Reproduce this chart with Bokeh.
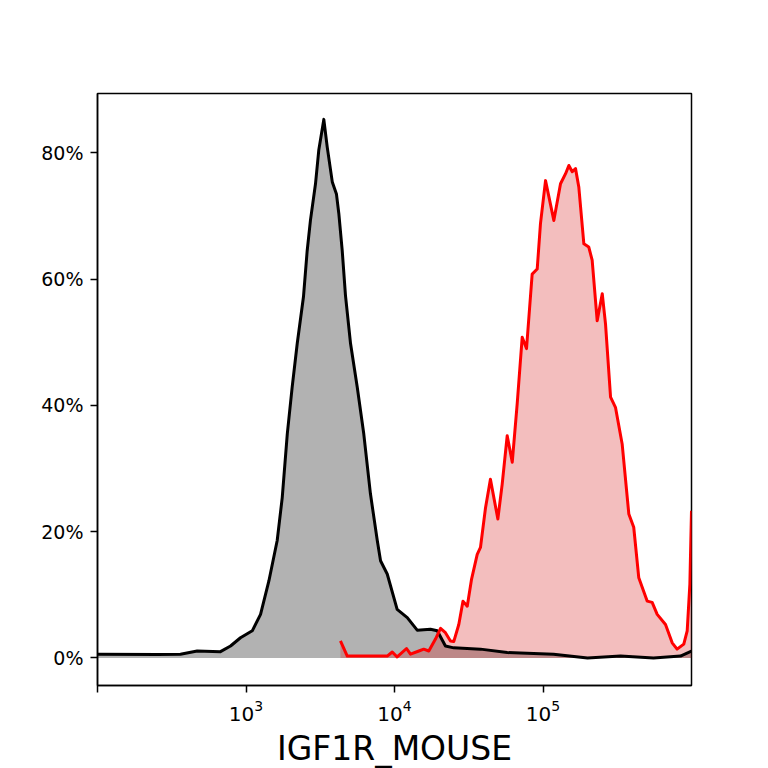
from bokeh.plotting import figure
from bokeh.models import Range1d, FixedTicker
from bokeh.embed import file_html
from bokeh.resources import INLINE

# control sample (black) - x in fluorescence units, y in % of max
ctrl_x = [100, 254, 362, 469, 673, 787, 918, 1102, 1253, 1426,
          1622, 1754, 1897, 2046, 2213, 2438, 2582, 2716, 2938, 3090,
          3342, 3524, 3811, 4064, 4217, 4446, 4677, 5058, 5610, 6209,
          6887, 7656, 8054, 8933, 10420, 12190, 14220, 17460, 19410, 22030,
          25060, 37930, 57410, 70470, 117800, 199500, 332700, 554600, 843300, 1000000]
ctrl_y = [0.59, 0.55, 0.59, 1.11, 1.0, 1.9, 3.2, 4.3, 6.9, 12.2,
          18.6, 25.4, 35.5, 42.9, 49.8, 57.2, 64.5, 69.3, 75.1, 80.4,
          85.3, 80.9, 75.4, 73.5, 70.4, 64.5, 57.4, 49.8, 42.9, 35.5,
          26.0, 18.6, 15.4, 13.3, 7.7, 6.4, 4.4, 4.55, 4.3, 1.9,
          1.6, 1.4, 0.85, 0.8, 0.6, 0.0, 0.3, 0.0, 0.3, 1.1]

# stained sample (red)
stain_x = [4325, 4808, 8933, 9660, 10420, 12050, 12820, 14590, 15740, 17020,
           18880, 20420, 22030, 23820, 25060, 27100, 28910, 30900, 33040, 36060,
           37930, 41020, 44260, 49660, 53090, 57410, 62090, 66990, 72440, 77450,
           84530, 91410, 96160, 104000, 118300, 131200, 141900, 149300, 157400, 165600,
           174200, 188400, 203200, 214300, 231700, 250600, 263600, 285100, 307600, 341200,
           378400, 408300, 441600, 503500, 543300, 587500, 668300, 741300, 799800, 887200,
           935400, 975000, 1000000]
stain_y = [2.7, 0.3, 0.3, 0.95, 0.16, 1.5, 0.6, 1.1, 1.4, 1.1,
           3.0, 4.7, 4.0, 2.7, 2.6, 5.3, 9.0, 8.2, 12.5, 16.4,
           17.5, 23.8, 28.3, 22.0, 27.5, 35.2, 31.0, 40.2, 50.8, 49.0,
           60.8, 61.6, 68.8, 75.6, 69.3, 75.1, 76.7, 78.0, 77.0, 77.5,
           74.6, 65.6, 65.1, 63.0, 53.4, 57.7, 52.9, 41.3, 39.7, 33.9,
           22.8, 20.7, 12.7, 9.0, 8.8, 6.9, 5.3, 2.4, 1.4, 2.2,
           4.3, 11.7, 23.3]

x_ticks = [100, 1000, 10000, 100000]
y_ticks = [0, 20, 40, 60, 80]
y_tick_labels = ["0%", "20%", "40%", "60%", "80%"]
x_label = "IGF1R_MOUSE"

p = figure(x_axis_type="log", frame_width=594, frame_height=592,
           min_border_left=97, min_border_top=93, min_border_right=69, min_border_bottom=40,
           x_range=Range1d(100, 1000000), y_range=Range1d(-4.36, 89.4),
           output_backend="svg", toolbar_location=None, background_fill_color="white")

p.varea(x=ctrl_x, y1=0, y2=ctrl_y, fill_color="black", fill_alpha=0.3)
p.varea(x=stain_x, y1=0, y2=stain_y, fill_color="#d62728", fill_alpha=0.3)
p.line(ctrl_x, ctrl_y, line_color="black", line_width=3, line_join="round")
p.line(stain_x, stain_y, line_color="red", line_width=3, line_join="round")

p.grid.visible = False
p.outline_line_color = "black"
p.outline_line_width = 1.5
p.outline_line_alpha = 1.0

p.xaxis.ticker = FixedTicker(ticks=x_ticks, minor_ticks=[])
p.xaxis.major_label_overrides = {100: ""}
p.yaxis.ticker = FixedTicker(ticks=y_ticks, minor_ticks=[])
p.yaxis.major_label_overrides = dict(zip(y_ticks, y_tick_labels))
p.xaxis.axis_label = x_label

for ax in [p.xaxis[0], p.yaxis[0]]:
    ax.axis_line_width = 1.5
    ax.axis_line_color = "black"
    ax.major_tick_line_width = 1.5
    ax.major_tick_line_color = "black"
    ax.major_tick_out = 7
    ax.major_tick_in = 0
    ax.minor_tick_out = 0
    ax.minor_tick_in = 0
    ax.major_label_text_font = "DejaVu Sans"
    ax.major_label_text_color = "black"
    ax.major_label_standoff = 7

p.yaxis.major_label_text_font_size = "19px"
p.xaxis.major_label_text_font_size = "20px"

p.xaxis.axis_label_text_font = "DejaVu Sans"
p.xaxis.axis_label_text_font_size = "33px"
p.xaxis.axis_label_text_font_style = "normal"
p.xaxis.axis_label_text_color = "black"
p.xaxis.axis_label_standoff = 5

open("out.html", "w").write(file_html(p, INLINE))
